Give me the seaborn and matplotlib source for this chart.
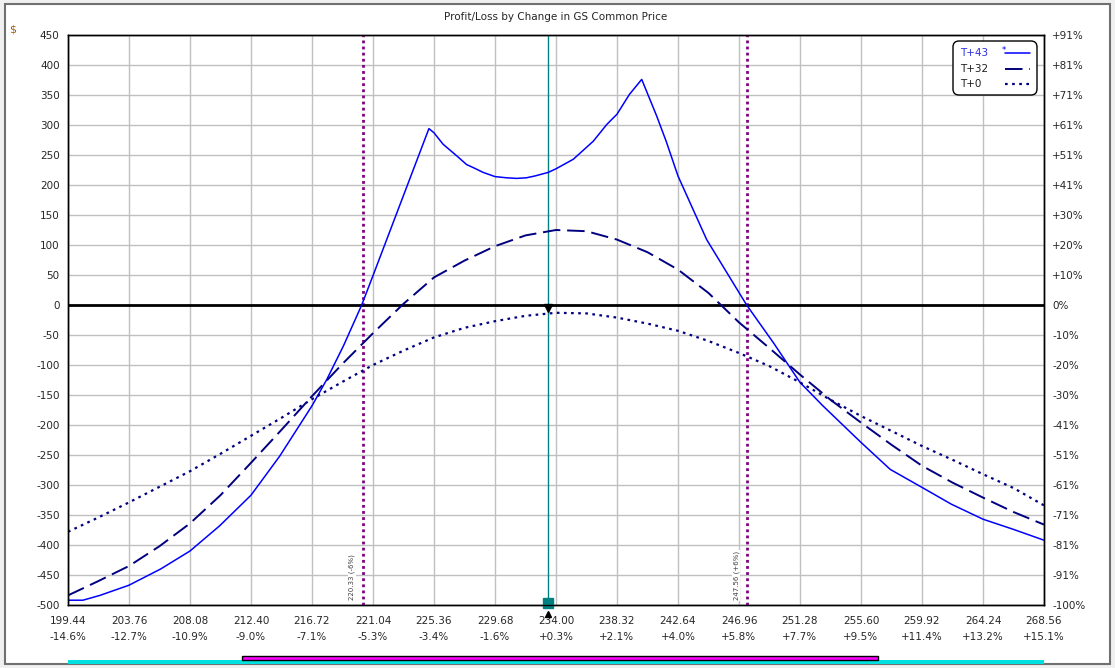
import numpy as np
import pandas as pd
import matplotlib
matplotlib.use("Agg")
import matplotlib.pyplot as plt
import seaborn as sns
from matplotlib.lines import Line2D
from matplotlib.patches import Rectangle, FancyBboxPatch
from matplotlib.transforms import IdentityTransform

# datos
tick_prices = [199.44, 203.76, 208.08, 212.40, 216.72, 221.04, 225.36, 229.68, 234.00,
               238.32, 242.64, 246.96, 251.28, 255.60, 259.92, 264.24, 268.56]
tick_pcts = ['-14.6%', '-12.7%', '-10.9%', '-9.0%', '-7.1%', '-5.3%', '-3.4%', '-1.6%', '+0.3%',
             '+2.1%', '+4.0%', '+5.8%', '+7.7%', '+9.5%', '+11.4%', '+13.2%', '+15.1%']
pl_ticks = list(range(450, -501, -50))
pct_labels = ['+91%', '+81%', '+71%', '+61%', '+51%', '+41%', '+30%', '+20%', '+10%', '0%',
              '-10%', '-20%', '-30%', '-41%', '-51%', '-61%', '-71%', '-81%', '-91%', '-100%']

# T+43
price_t43 = [199.44, 200.50, 201.70, 203.76, 206.00, 208.08, 210.18, 212.40, 214.43, 216.72,
             217.77, 218.95, 220.24, 221.04, 223.40, 225.00, 225.36, 226.00, 227.00, 227.67,
             228.14, 228.84, 229.68, 230.50, 231.22, 231.90, 232.50, 233.45, 234.00, 235.23,
             236.64, 237.60, 238.32, 239.20, 240.07, 241.13, 241.80, 242.64, 244.67, 247.50,
             249.40, 251.28, 252.90, 255.60, 257.67, 259.92, 262.00, 264.24, 266.40, 268.56]
pl_t43 = [-492, -492, -484, -467, -440, -410, -368, -317, -252, -168,
          -124, -68, 0, 49, 195, 294, 287, 268, 248, 234,
          229, 221, 214, 212, 211, 212, 215, 221, 227, 243,
          273, 301, 318, 351, 376, 315, 273, 215, 109, 0,
          -63, -129, -168, -229, -274, -304, -332, -357, -374, -392]

# T+32 y T+0
price_grid = [199.44, 201.60, 203.76, 205.92, 208.08, 210.24, 212.40, 214.56, 216.72, 218.88,
              221.04, 223.20, 225.36, 227.52, 229.68, 231.84, 234.00, 236.16, 238.32, 240.48,
              242.64, 244.80, 246.96, 249.12, 251.28, 253.44, 255.60, 257.76, 259.92, 262.08,
              264.24, 266.40, 268.56]
pl_t32 = [-484, -460, -435, -402, -364, -317, -263, -208, -152, -98,
          -47, 2, 46, 74, 98, 116, 125, 123, 109, 88,
          59, 20, -29, -72, -116, -158, -196, -233, -268, -296,
          -321, -345, -366]
pl_t0 = [-378, -354, -329, -303, -277, -248, -218, -188, -157, -128,
         -100, -76, -54, -38, -27, -18, -13, -14, -21, -31,
         -43, -60, -80, -102, -129, -158, -185, -210, -235, -258,
         -282, -305, -334]

current_price = 233.43
sd_lines = [220.33, 247.56]
sd_labels = ['220.33 (-6%)', '247.56 (+6%)']
cyan_range = (199.44, 268.56)
magenta_range = (211.76, 256.80)

sns.set_style("white")
plt.rcParams['font.family'] = ['DejaVu Sans']

W, H = 1115, 668
fig = plt.figure(figsize=(W / 100, H / 100), dpi=100)
fig.patch.set_facecolor('#f0f0f0')
fig.patches.append(Rectangle((5 / W, 4 / H), 1105 / W, 660 / H, transform=fig.transFigure,
                             facecolor='white', edgecolor='#707070', lw=1.5, zorder=-5))

ax = fig.add_axes([68 / W, 1 - 605 / H, 976 / W, 570 / H])
ax.set_facecolor('white')

df43 = pd.DataFrame({'price': price_t43, 'pl': pl_t43})
dfg = pd.DataFrame({'price': price_grid, 't32': pl_t32, 't0': pl_t0})

t43_style = dict(color='#0000ff', lw=1.1)
t32_style = dict(color='#000080', lw=1.4, linestyle=(0, (9, 3.5)))
t0_style = dict(color='#000080', lw=1.6, linestyle=(0, (1.2, 2.0)))

sns.lineplot(data=df43, x='price', y='pl', ax=ax, zorder=5, **t43_style)
sns.lineplot(data=dfg, x='price', y='t32', ax=ax, zorder=5, **t32_style)
sns.lineplot(data=dfg, x='price', y='t0', ax=ax, zorder=5, **t0_style)

ax.set_xlim(tick_prices[0], tick_prices[-1])
ax.set_ylim(-500, 450)
ax.set_xticks(tick_prices)
ax.set_xticklabels([f'{p:.2f}\n{q}' for p, q in zip(tick_prices, tick_pcts)],
                   fontsize=7.5, linespacing=1.75)
ax.set_yticks(pl_ticks)
ax.set_yticklabels([str(v) for v in pl_ticks], fontsize=7.5)
ax.tick_params(axis='x', direction='out', length=5, width=1, color='black', pad=3)
ax.tick_params(axis='y', length=0, pad=6)
ax.grid(True, color='#c0c0c0', lw=1)
ax.set_xlabel('')
ax.set_ylabel('')
for s in ax.spines.values():
    s.set_color('black')
    s.set_linewidth(1)

ax.axhline(0, color='black', lw=2, zorder=4)
ax.axvline(current_price, color='#008080', lw=1, zorder=3)
for x, lab in zip(sd_lines, sd_labels):
    ax.axvline(x, color='#800080', lw=2, linestyle=(0, (1, 1.2)), zorder=3)
    ax.annotate(lab, xy=(x, -492), xytext=(-8, 0), textcoords='offset points',
                rotation=90, fontsize=5, color='#404040', ha='center', va='bottom',
                bbox=dict(facecolor='white', edgecolor='none', pad=0.5), zorder=4)

ax.plot([current_price], [-496], marker='s', ms=7, color='#008080', clip_on=False, zorder=6)
ax.plot([current_price], [-515], marker='^', ms=5, color='black', clip_on=False, zorder=6)
ax.plot([current_price], [-5], marker='v', ms=6, color='black', zorder=6)

ax2 = ax.twinx()
ax2.set_ylim(-500, 450)
ax2.set_yticks(pl_ticks)
ax2.set_yticklabels(pct_labels, fontsize=7.5)
ax2.tick_params(axis='y', length=0, pad=6)
for s in ax2.spines.values():
    s.set_color('black')
    s.set_linewidth(1)

# leyenda dibujada a mano (etiquetas a la izquierda, muestras a la derecha)
pix = IdentityTransform()
box = FancyBboxPatch((953, H - 95), 84, 54, boxstyle='round,pad=0,rounding_size=6',
                     transform=pix, facecolor='white', edgecolor='black', lw=1, zorder=20)
fig.patches.append(box)
leg_names = ['T+43', 'T+32', 'T+0']
leg_colors = ['#3030e0', '#202020', '#202020']
for i, (name, st, tc) in enumerate(zip(leg_names, [t43_style, t32_style, t0_style], leg_colors)):
    yy = H - 53 - i * 15.5
    fig.text(960 / W, yy / H, name, fontsize=7.5, color=tc, ha='left', va='center', zorder=21)
    ln = Line2D([1005 / W, 1030 / W], [yy / H, yy / H], transform=fig.transFigure, zorder=21, **st)
    fig.lines.append(ln)
fig.text(1004 / W, (H - 50) / H, '*', fontsize=6, color='#0000ff', ha='center', va='center', zorder=21)

fig.text(556 / W, 1 - 17 / H, 'Profit/Loss by Change in GS Common Price', fontsize=7.5,
         ha='center', va='center')
fig.text(13 / W, 1 - 29 / H, '$', fontsize=8, color='#9a6010', ha='center', va='center')

# barras inferiores
axb = fig.add_axes([68 / W, 1 - 666 / H, 976 / W, 12 / H])
axb.set_xlim(tick_prices[0], tick_prices[-1])
axb.set_ylim(12, 0)
axb.barh(7.5, cyan_range[1] - cyan_range[0], left=cyan_range[0], height=4,
         color='#00e0e0', edgecolor='none')
axb.barh(4, magenta_range[1] - magenta_range[0], left=magenta_range[0], height=4,
         color='#ff00ff', edgecolor='black', lw=1)
axb.axis('off')

fig.savefig('out.png', dpi=100, facecolor=fig.get_facecolor())
